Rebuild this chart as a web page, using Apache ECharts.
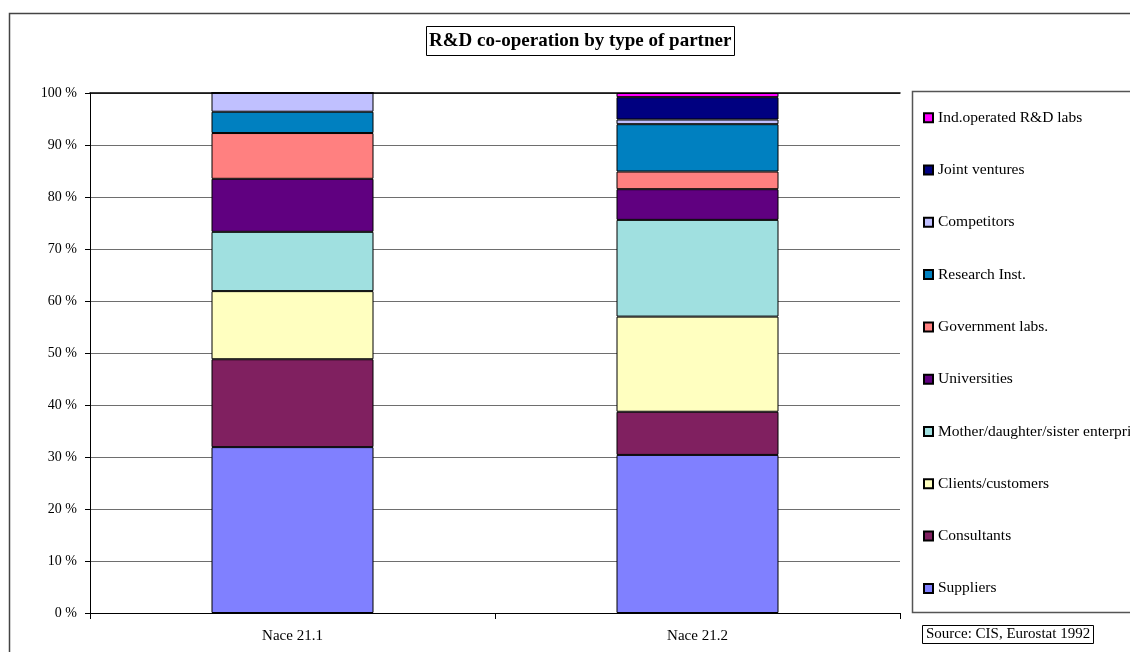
<!DOCTYPE html>
<html>
<head>
<meta charset="utf-8">
<script src="https://cdn.jsdelivr.net/npm/echarts@6/dist/echarts.min.js"></script>
<style>
html,body{margin:0;padding:0;background:#fff;}
#chart{width:1130px;height:652px;}
</style>
</head>
<body>
<div id="chart"></div>
<script>
const categories = ['Nace 21.1', 'Nace 21.2'];
const seriesNames = ['Suppliers', 'Consultants', 'Clients/customers', 'Mother/daughter/sister enterprises', 'Universities', 'Government labs.', 'Research Inst.', 'Competitors', 'Joint ventures', 'Ind.operated R&D labs'];
const suppliers = [31.9, 30.4];
const consultants = [16.9, 8.3];
const clients = [13.1, 18.3];
const mother = [11.4, 18.6];
const universities = [10.2, 5.9];
const government = [8.8, 3.4];
const research = [4.1, 9.1];
const competitors = [3.6, 0.9];
const jointVentures = [0, 4.3];
const indLabs = [0, 0.8];
const seriesValues = [suppliers, consultants, clients, mother, universities, government, research, competitors, jointVentures, indLabs];
const colors = ['#8080FF', '#802060', '#FFFFC0', '#A0E0E0', '#600080', '#FF8080', '#0080C0', '#C0C0FF', '#000080', '#FF00FF'];
const yTicks = [0, 10, 20, 30, 40, 50, 60, 70, 80, 90, 100];

const FONT = 'Liberation Serif, Times New Roman, serif';
const chart = echarts.init(document.getElementById('chart'), null, {renderer: 'canvas'});

const series = seriesNames.map((name, i) => ({
  name: name,
  type: 'bar',
  stack: 'total',
  barWidth: '40%',
  data: seriesValues[i],
  itemStyle: {color: colors[i], borderColor: '#000', borderWidth: 1},
  emphasis: {disabled: true}
}));

chart.setOption({
  animation: false,
  backgroundColor: '#fff',
  textStyle: {fontFamily: FONT, color: '#000'},
  graphic: [
    {type: 'rect', shape: {x: 9.5, y: 13.5, width: 1300, height: 800}, style: {fill: 'none', stroke: '#444', lineWidth: 1.5}, z: -10},
    {type: 'rect', shape: {x: 912.5, y: 91.5, width: 300, height: 521}, style: {fill: 'none', stroke: '#555', lineWidth: 1.5}, z: -5}
  ],
  title: [
    {text: 'R&D co-operation by type of partner', left: 426, top: 26, padding: [6, 3, 5, 3],
     borderColor: '#000', borderWidth: 1,
     textStyle: {fontFamily: FONT, fontSize: 19, fontWeight: 'bold', color: '#000', lineHeight: 19}},
    {text: 'Source: CIS, Eurostat 1992', left: 922, top: 625, padding: [2, 4, 2, 4],
     borderColor: '#000', borderWidth: 1,
     textStyle: {fontFamily: FONT, fontSize: 15, fontWeight: 'normal', color: '#000', lineHeight: 15}}
  ],
  legend: {
    orient: 'vertical',
    left: 923,
    top: 109.7,
    padding: 0,
    itemWidth: 9,
    itemHeight: 9,
    itemGap: 36.3,
    icon: 'rect',
    selectedMode: false,
    data: seriesNames.slice().reverse(),
    textStyle: {fontFamily: FONT, fontSize: 15.5, color: '#000', lineHeight: 16}
  },
  grid: {left: 90, right: 230, top: 93, bottom: 39},
  xAxis: [
    {type: 'category', data: categories,
     axisLine: {lineStyle: {color: '#000', width: 1}},
     axisTick: {show: true, length: 6, lineStyle: {color: '#000'}},
     axisLabel: {fontFamily: FONT, fontSize: 15, color: '#000', margin: 16},
     splitLine: {show: false}},
    {type: 'category', data: categories, position: 'top',
     axisLine: {show: true, lineStyle: {color: '#000', width: 1.5}},
     axisTick: {show: false}, axisLabel: {show: false}}
  ],
  yAxis: {
    type: 'value', min: 0, max: 100, interval: 10,
    axisLine: {show: true, lineStyle: {color: '#000', width: 1}},
    axisTick: {show: true, length: 5, lineStyle: {color: '#000'}},
    axisLabel: {fontFamily: FONT, fontSize: 14, color: '#000', margin: 13,
      formatter: v => (yTicks.indexOf(v) >= 0 ? v + ' %' : '')},
    splitLine: {show: true, lineStyle: {color: '#6e6e6e', width: 1}}
  },
  series: series
});
</script>
</body>
</html>
